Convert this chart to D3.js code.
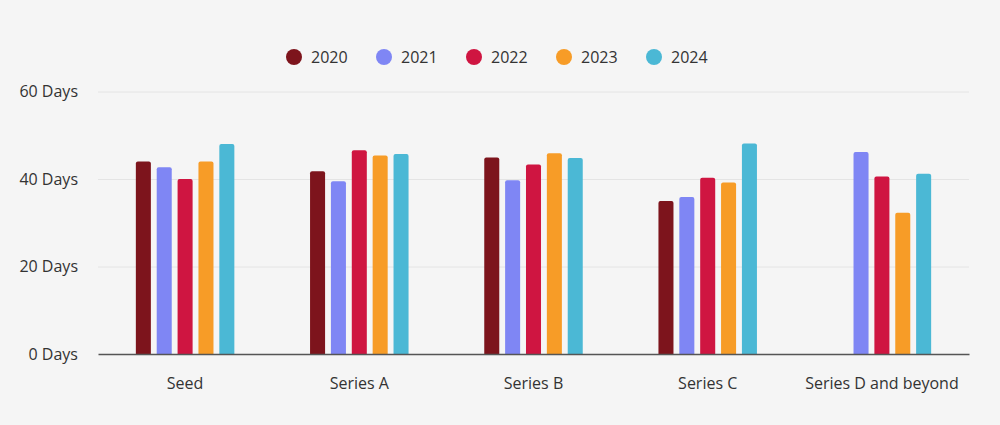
<!DOCTYPE html>
<html>
<head>
<meta charset="utf-8">
<script src="https://cdn.jsdelivr.net/npm/d3@7"></script>
<style>
  html, body { margin: 0; padding: 0; background: #f5f5f5; }
  svg { display: block; font-family: "Segoe UI", "Open Sans", "Noto Sans", sans-serif; }
</style>
</head>
<body>
<div id="chart"></div>
<script>
// Chart data
const stages = ["Seed", "Series A", "Series B", "Series C", "Series D and beyond"];
const years = ["2020", "2021", "2022", "2023", "2024"];
const colors = ["#7d141c", "#7f86f4", "#cf1541", "#f79c27", "#4bb8d5"];
// days per stage, one array per year (null = no bar)
const days2020 = [44, 41.8, 44.9, 35, null];
const days2021 = [42.7, 39.5, 39.7, 35.9, 46.2];
const days2022 = [40, 46.6, 43.3, 40.3, 40.6];
const days2023 = [44, 45.4, 45.9, 39.2, 32.3];
const days2024 = [48, 45.7, 44.8, 48.1, 41.2];
const yTicks = [0, 20, 40, 60];

const series = [days2020, days2021, days2022, days2023, days2024];

const width = 1000;
const height = 425;
const margin = { top: 91.5, right: 31, bottom: 71, left: 98 };
const groupWidth = 98.5;

const svg = d3.select("#chart")
    .append("svg")
    .attr("width", width)
    .attr("height", height);

svg.append("rect")
    .attr("width", width)
    .attr("height", height)
    .attr("fill", "#f5f5f5");

const x = d3.scaleBand()
    .domain(stages)
    .range([margin.left, width - margin.right]);

const xInner = d3.scaleBand()
    .domain(years)
    .range([0, groupWidth])
    .paddingInner(0.28);

const y = d3.scaleLinear()
    .domain([0, 60])
    .range([height - margin.bottom, margin.top]);

const color = d3.scaleOrdinal()
    .domain(years)
    .range(colors);

// Grid lines + y labels
const yAxis = svg.append("g")
    .attr("transform", `translate(${margin.left},0)`)
    .call(d3.axisLeft(y)
        .tickValues(yTicks)
        .tickSize(-(width - margin.left - margin.right))
        .tickPadding(20)
        .tickFormat(d => `${d} Days`))
    .attr("font-family", null)
    .call(g => g.select(".domain").remove());

yAxis.selectAll(".tick line")
    .attr("stroke", "#e4e4e4")
    .attr("stroke-width", 1);

yAxis.selectAll(".tick text")
    .attr("fill", "#333")
    .style("font-size", "16px");

// Bars
const groups = svg.append("g")
    .selectAll("g")
    .data(stages)
    .join("g")
    .attr("transform", d => `translate(${x(d) + (x.bandwidth() - groupWidth) / 2},0)`);

groups.selectAll("rect")
    .data((d, i) => years.map((yr, j) => ({ year: yr, value: series[j][i] })))
    .join("rect")
    .filter(d => d.value != null)
    .attr("x", d => xInner(d.year))
    .attr("width", xInner.bandwidth())
    .attr("y", d => y(d.value))
    .attr("height", d => y(0) - y(d.value) + 2)
    .attr("rx", 2)
    .attr("fill", d => color(d.year));

// cover rounded bottoms below baseline
svg.append("rect")
    .attr("x", margin.left)
    .attr("y", y(0))
    .attr("width", width - margin.left - margin.right)
    .attr("height", 3)
    .attr("fill", "#f5f5f5");

// X axis
const xAxis = svg.append("g")
    .attr("transform", `translate(0,${y(0)})`)
    .call(d3.axisBottom(x).tickSize(0).tickPadding(24))
    .attr("font-family", null);

xAxis.select(".domain")
    .attr("stroke", "#555")
    .attr("stroke-width", 1.3);

xAxis.selectAll(".tick text")
    .attr("fill", "#333")
    .style("font-size", "16px");

// Legend
const legend = svg.append("g")
    .selectAll("g")
    .data(years)
    .join("g")
    .attr("transform", (d, i) => `translate(${294 + i * 90},57)`);

legend.append("circle")
    .attr("r", 8)
    .attr("fill", d => color(d));

legend.append("text")
    .attr("x", 17)
    .attr("dy", "0.35em")
    .attr("fill", "#333")
    .style("font-size", "16px")
    .text(d => d);
</script>
</body>
</html>
